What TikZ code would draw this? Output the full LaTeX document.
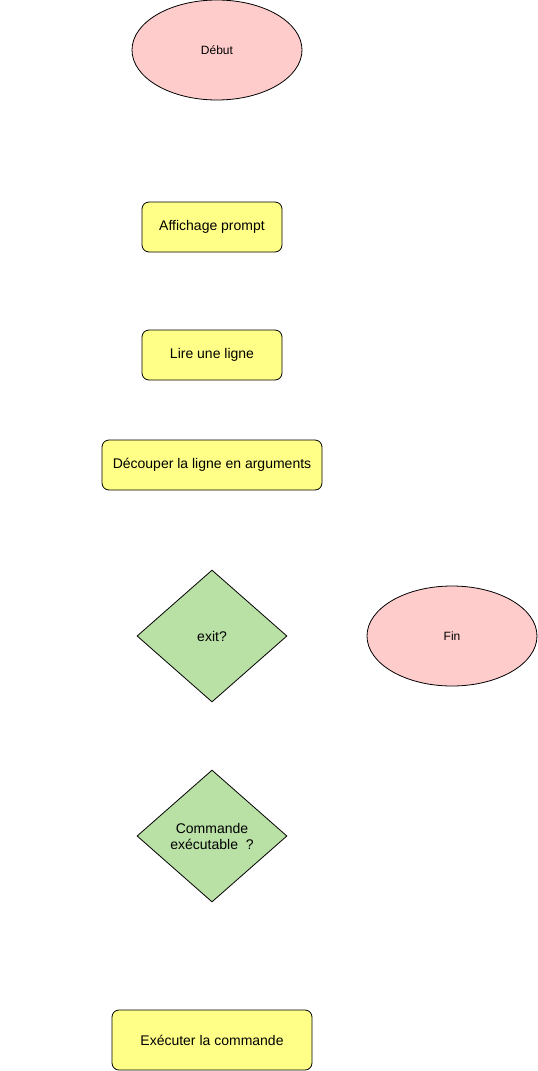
\documentclass[tikz,border=0pt]{standalone}
\usepackage{fontspec}
\setmainfont{Liberation Sans}
\usetikzlibrary{shapes.geometric}
\definecolor{boxyellow}{HTML}{FFFF88}
\definecolor{ovalpink}{HTML}{FFCCCC}
\definecolor{decgreen}{HTML}{B9E0A5}
\begin{document}
\begin{tikzpicture}[x=1pt,y=-1pt,
  stepbox/.style={draw=black, line width=0.8pt, fill=boxyellow, rounded corners=7pt, inner sep=0pt, font=\fontsize{14}{16}\selectfont, align=center},
  termoval/.style={draw=black, line width=0.8pt, fill=ovalpink, ellipse, inner sep=0pt, minimum width=170pt, minimum height=100pt, font=\fontsize{12}{14}\selectfont},
  decision/.style={draw=black, line width=0.8pt, fill=decgreen, diamond, inner sep=0pt, minimum width=150pt, minimum height=132pt, font=\fontsize{14}{16}\selectfont, align=center}]
\useasboundingbox (0,0) rectangle (538,1071);
\node[termoval] (debut) at (217,50) {Début};
\node[stepbox, minimum width=140pt, minimum height=50pt] (prompt) at (212,227) {Affichage prompt};
\node[stepbox, minimum width=140pt, minimum height=50pt] (lire) at (212,355) {Lire une ligne};
\node[stepbox, minimum width=220pt, minimum height=50pt] (decoup) at (212,465) {Découper la ligne en arguments};
\node[decision] (exit) at (212,636) {exit?};
\node[termoval] (fin) at (452,636) {Fin};
\node[decision] (cmd) at (212,836) {Commande\\exécutable\ \ ?};
\node[stepbox, minimum width=200pt, minimum height=60pt] (exec) at (212,1040) {Exécuter la commande};
\end{tikzpicture}
\end{document}
